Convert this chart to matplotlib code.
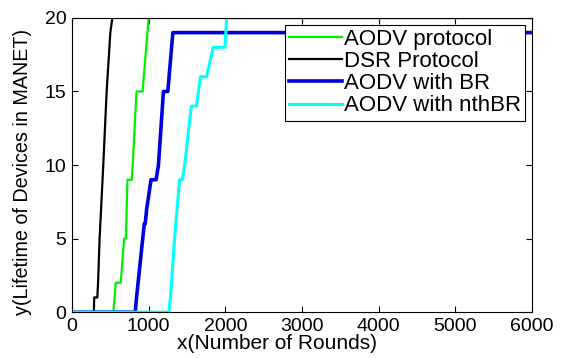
import matplotlib.pyplot as plt

plt.rcParams['font.family'] = ['Liberation Sans', 'DejaVu Sans']

# AODV protocol (green)
aodv_x = [0, 540, 571, 636, 680, 702, 724, 781, 842, 921, 1000, 6000]
aodv_y = [0, 0, 2, 2, 5, 5, 9, 9, 15, 15, 20, 20]

# DSR Protocol (black)
dsr_x = [0, 285, 290, 330, 340, 360, 408, 452, 500, 526, 6000]
dsr_y = [0, 0, 1, 1, 2, 5, 10, 15, 19, 20, 20]

# AODV with BR (blue)
br_x = [0, 825, 842, 943, 955, 974, 1031, 1097, 1128, 1193, 1250, 1316, 6000]
br_y = [0, 0, 1, 6, 6, 7, 9, 9, 10, 15, 15, 19, 19]

# AODV with nthBR (cyan)
nth_x = [0, 1263, 1285, 1338, 1404, 1439, 1470, 1557, 1623, 1676, 1755, 1842, 1996, 2018, 6000]
nth_y = [0, 0, 1, 5, 9, 9, 10, 14, 14, 16, 16, 18, 18, 20, 20]

fig = plt.figure(figsize=(5.67, 3.58), dpi=100)
ax = fig.add_axes([0.127, 0.128, 0.811, 0.822])

ax.plot(aodv_x, aodv_y, color='#00ee00', lw=1.6, label='AODV protocol')
ax.plot(dsr_x, dsr_y, color='black', lw=1.6, label='DSR Protocol')
ax.plot(br_x, br_y, color='#0000dd', lw=2.6, label='AODV with BR')
ax.plot(nth_x, nth_y, color='cyan', lw=2.2, label='AODV with nthBR')

ax.set_xlim(0, 6000)
ax.set_ylim(0, 20)
ax.set_xticks(range(0, 6001, 1000))
ax.set_yticks(range(0, 21, 5))
ax.tick_params(direction='in', top=True, right=True, labelsize=14, length=4, pad=4)
ax.set_xlabel('x(Number of Rounds)', fontsize=15, labelpad=-2)
ax.set_ylabel('y(Lifetime of Devices in MANET)', fontsize=14.2, labelpad=3)
ax.xaxis.set_label_coords(0.446, -0.075)
ax.yaxis.set_label_coords(-0.088, 0.476)

leg = ax.legend(loc='upper right', fontsize=16, frameon=True, fancybox=False,
                edgecolor='black', framealpha=1, handlelength=2.4, handletextpad=0.05,
                labelspacing=0.05, borderaxespad=0.3, borderpad=0.2)
leg.get_frame().set_linewidth(0.8)

fig.savefig('out.png', dpi=100)
